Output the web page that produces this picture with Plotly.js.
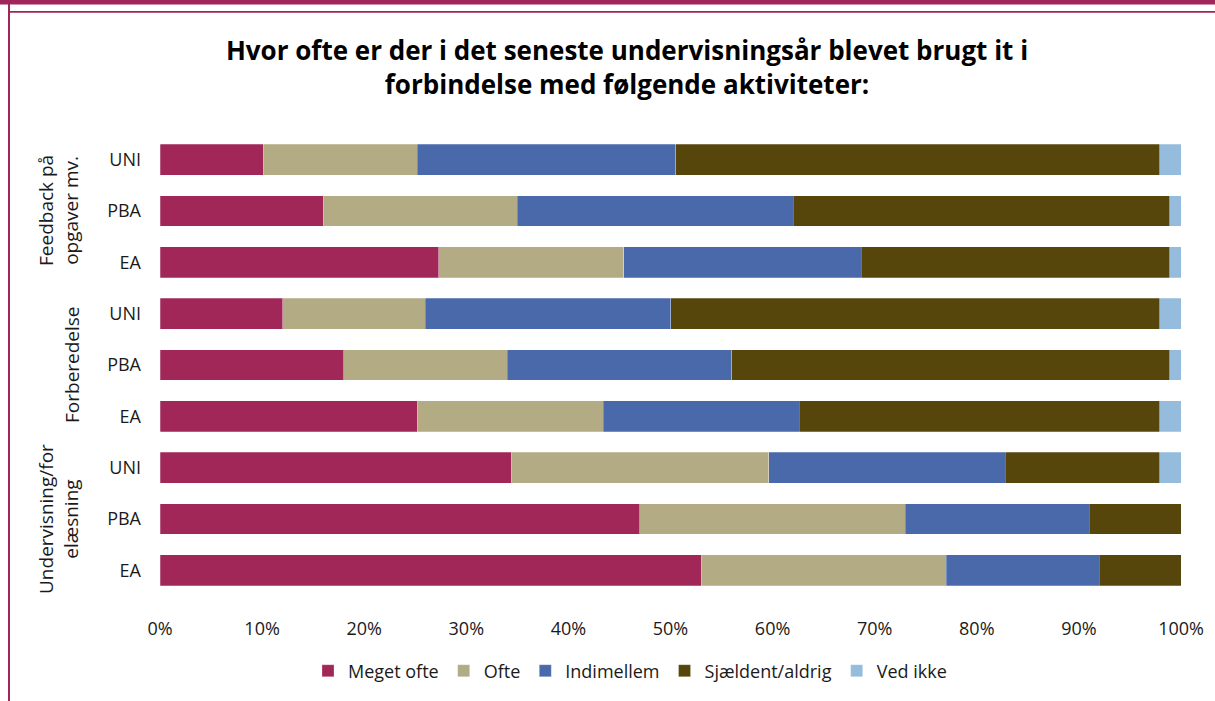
<!DOCTYPE html>
<html>
<head>
<meta charset="utf-8">
<script src="https://cdn.plot.ly/plotly-3.0.1.min.js"></script>
<style>
  html, body { margin: 0; padding: 0; background: #fff; }
  #chart { width: 1215px; height: 701px; }
</style>
</head>
<body>
<div id="chart"></div>
<script>
// ---- data ----
const groups = ["Feedback på<br>opgaver mv.", "Forberedelse", "Undervisning/for<br>elæsning"];
const levels = ["UNI", "PBA", "EA"];
const seriesNames = ["Meget ofte", "Ofte", "Indimellem", "Sjældent/aldrig", "Ved ikke"];
const megetOfte  = [10.1, 16.0, 27.3, 12.0, 18.0, 25.2, 34.4, 47.0, 53.0];
const ofte       = [15.1, 19.0, 18.1, 14.0, 16.0, 18.2, 25.2, 26.0, 24.0];
const indimellem = [25.3, 27.0, 23.3, 24.0, 22.0, 19.2, 23.2, 18.0, 15.0];
const sjaeldent  = [47.4, 36.9, 30.2, 47.9, 42.9, 35.3, 15.1,  9.0,  8.0];
const vedIkke    = [ 2.1,  1.1,  1.1,  2.1,  1.1,  2.1,  2.1,  0.0,  0.0];
const xTickVals  = [0, 10, 20, 30, 40, 50, 60, 70, 80, 90, 100];
const xTickText  = ["0%", "10%", "20%", "30%", "40%", "50%", "60%", "70%", "80%", "90%", "100%"];

const colors = ["#A02758", "#B3AB84", "#4A69AB", "#57460B", "#95BBDD"];

// ---- build ----
const rowKeys = [], rowText = [];
groups.forEach((g, gi) => levels.forEach(l => { rowKeys.push(gi + "|" + l); rowText.push(l); }));
const values = [megetOfte, ofte, indimellem, sjaeldent, vedIkke];

const traces = seriesNames.map((name, i) => ({
  type: "bar",
  orientation: "h",
  name: name,
  x: values[i],
  y: rowKeys,
  marker: { color: colors[i], line: { width: 0.5, color: "rgba(255,255,255,0.5)" } },
  hoverinfo: "name+x"
}));

const W = 1215, H = 701;
const L = 160, R = W - 1181, T = 134, B = H - 596;
const PW = W - L - R, PH = H - T - B;
const px = v => (v - L) / PW;
const py = v => (H - B - v) / PH;

const frameColor = "#A0265A";
const shapes = [
  { type: "rect", xref: "paper", yref: "paper", x0: px(0), x1: px(W), y0: py(0), y1: py(4.5), fillcolor: frameColor, line: { width: 0 } },
  { type: "rect", xref: "paper", yref: "paper", x0: px(8), x1: px(W), y0: py(11), y1: py(12.8), fillcolor: frameColor, line: { width: 0 } },
  { type: "rect", xref: "paper", yref: "paper", x0: px(8), x1: px(10), y0: py(0), y1: py(H), fillcolor: frameColor, line: { width: 0 } }
];

const groupX = [58, 72, 58];
const annotations = groups.map((g, gi) => ({
  text: g,
  xref: "paper", yref: "y",
  x: px(groupX[gi]), y: gi + "|" + levels[1],
  xanchor: "center", yanchor: "middle",
  textangle: -90,
  showarrow: false,
  font: { family: "Open Sans", size: 19, color: "#1a1a1a" }
}));

const layout = {
  width: W, height: H,
  margin: { l: L, r: R, t: T, b: B, pad: 0 },
  paper_bgcolor: "#fff",
  plot_bgcolor: "#fff",
  barmode: "stack",
  bargap: 0.4,
  font: { family: "Open Sans", size: 18, color: "#1a1a1a" },
  title: {
    text: "<b>Hvor ofte er der i det seneste undervisningsår blevet brugt it i<br>forbindelse med følgende aktiviteter:</b>",
    font: { family: "Open Sans", size: 26, color: "#000" },
    xref: "container", x: 627 / W, xanchor: "center",
    yref: "container", y: 1 - 60 / H, yanchor: "top"
  },
  xaxis: {
    range: [0, 100],
    tickmode: "array",
    tickvals: xTickVals,
    ticktext: xTickText,
    showgrid: false, zeroline: false, showline: false,
    ticks: "", ticklabelstandoff: 20,
    tickfont: { size: 18, color: "#1a1a1a" },
    fixedrange: true
  },
  yaxis: {
    type: "category",
    categoryorder: "array",
    categoryarray: rowKeys,
    tickvals: rowKeys,
    ticktext: rowText,
    autorange: "reversed",
    showgrid: false, zeroline: false, showline: false,
    ticks: "", ticklabelstandoff: 18,
    tickfont: { size: 18, color: "#1a1a1a" },
    fixedrange: true
  },
  legend: {
    orientation: "h",
    xref: "container", x: 630 / W, xanchor: "center",
    yref: "container", y: 1 - 671 / H, yanchor: "middle",
    font: { size: 18, color: "#1a1a1a" },
    traceorder: "normal",
    itemwidth: 30,
    itemclick: false, itemdoubleclick: false
  },
  shapes: shapes,
  annotations: annotations
};

Plotly.newPlot("chart", traces, layout, { displayModeBar: false, staticPlot: true });
</script>
</body>
</html>
